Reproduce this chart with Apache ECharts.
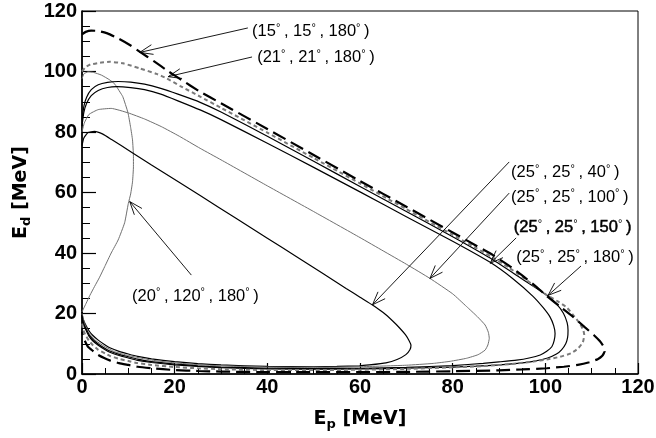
<!DOCTYPE html>
<html><head><meta charset="utf-8">
<script src="https://cdn.jsdelivr.net/npm/echarts@6/dist/echarts.min.js"></script>
<style>html,body{margin:0;padding:0;background:#fff}#c{width:656px;height:438px}</style>
</head><body><div id="c"></div>
<script>
// Axis ranges / ticks
const xMin = 0, xMax = 120, xStep = 20;
const yMin = 0, yMax = 120, yStep = 20;

// Curves [E_p, E_d]
const curve15_15_180 = [[0,112.3],[0.8,113.1],[2,113.5],[3.5,113.4],[5.5,112.6],[8,110.8],[10.5,108.6],[12.5,106.5],[15.5,103.4],[18.6,100.1],[21.2,97.5],[25.5,93.3],[30,89.5],[40,81],[50,72.4],[60,63.8],[70,55.3],[80,46.8],[85,42.5],[88.7,39.3],[92,36],[95,32.6],[98,28.9],[100.3,25.8],[103,22.5],[106,18.9],[108.5,15.5],[110.5,12.8],[111.8,10.8],[112.6,9],[112.8,7.5],[112.3,6],[111.3,4.9],[109.5,3.9],[107,3.0],[104,2.4],[100.3,1.9],[95,1.5],[90,1.2],[80,0.9],[70,0.7],[60,0.6],[50,0.6],[40,0.6],[30,0.8],[25,1],[20,1.3],[15,1.9],[12,2.4],[10,3],[8,3.6],[6,4.5],[4.9,5.2],[3.5,6.3],[2.3,7.7],[1.3,9],[0.6,11],[0.2,12.5],[0,14]];
const curve21_21_180 = [[0,100],[0.65,101.3],[1.8,102.3],[3.9,102.9],[6,103.2],[8.9,102.7],[12.5,101],[16.1,99.2],[18.3,97.7],[21.2,95.2],[25.5,91.7],[30,88],[40,79.8],[50,71.4],[60,63],[70,54.5],[80,46],[85,41.7],[88.5,38.6],[92,35.3],[95,32.1],[98,28.7],[100.3,26.1],[102.7,24],[104.6,22],[106.3,19],[107.5,16.5],[108.2,14.5],[108.4,12.9],[108.1,10.5],[107.1,8.5],[105.5,6.8],[103.2,5.7],[100.3,4.8],[97.4,4.1],[94,3.5],[90.2,3],[85,2.5],[80,2.2],[70,1.7],[60,1.4],[50,1.3],[40,1.3],[30,1.6],[25,1.9],[20,2.3],[15,3],[12,3.6],[10,4.3],[8,5],[6,6],[5,6.8],[3.5,8],[2.3,9.6],[1.5,11],[0.7,13],[0.2,15],[0,17]];
const curve25_25_180 = [[0,84],[0.4,88.5],[1,91.5],[2,94],[3.5,95.6],[5.5,96.4],[7.8,96.7],[10.5,96.5],[13.5,95.8],[17,94.4],[20.7,92.5],[25.5,89.8],[30,86.6],[40,78.6],[50,70.3],[60,62],[70,53.7],[80,45.4],[88,38.4],[95,31.4],[100.6,25.8],[102.5,23],[103.9,20.1],[104.7,17],[104.9,14.5],[104.8,12],[104.4,10],[103.5,8],[102.4,6.6],[100.5,5.3],[97.4,4.2],[94,3.5],[90.2,3],[85,2.6],[80,2.3],[70,1.9],[60,1.7],[50,1.6],[40,1.7],[30,2.1],[25,2.5],[20,3],[15,3.8],[12,4.5],[10,5.3],[8,6.1],[6,7.2],[5,8],[3.5,9.5],[2.3,11],[1.5,12.5],[0.7,15],[0.2,17],[0,19]];
const curve25_25_150 = [[0,82],[0.4,86.5],[1,89.5],[2,92],[3.5,93.7],[5.5,94.7],[7.5,95],[10.5,94.7],[13.5,94],[17,92.5],[20.7,90.3],[25.5,87.3],[30,84.1],[40,76.3],[50,68.3],[60,60.2],[70,52],[80,43.9],[88,37],[93,31.5],[97.4,25.6],[99.5,22],[101,18.9],[101.8,16],[102.1,13.4],[101.9,11],[101.4,9],[100.3,7.5],[98.9,6.3],[96.5,5.3],[93.8,4.6],[90,4],[86.6,3.5],[80,2.8],[70,2.2],[60,1.9],[50,1.8],[40,1.9],[30,2.3],[25,2.7],[20,3.3],[15,4.1],[12,4.9],[10,5.7],[8,6.5],[6,7.6],[5,8.4],[3.5,9.9],[2.3,11.5],[1.5,13],[0.7,15.5],[0.2,17.5],[0,19.5]];
const curve25_25_100 = [[0,80],[0.5,83],[1.5,85.8],[3.5,87.4],[6.3,87.8],[10,86.3],[13.5,84.3],[17.1,81.8],[21,78.6],[25.5,74.6],[30,70.8],[40,62.2],[50,53.7],[60,45.1],[65,40.7],[70,36.3],[75.1,31.6],[80,26.5],[83,22.3],[85.3,19],[87,16.2],[87.7,13.8],[87.9,11.8],[87.6,9.6],[87,7.9],[85.5,6.4],[83,5.2],[79.5,4.2],[75.8,3.5],[70,2.9],[60,2.4],[50,2.2],[40,2.3],[30,2.7],[25,3.1],[20,3.7],[15,4.6],[10,6.1],[7,7.4],[5,9],[3,11],[1.5,13.5],[0.5,17],[0,20]];
const curve25_25_40 = [[0,75.5],[0.4,78],[1.3,79.8],[2.7,80.2],[4.5,79.3],[6.3,77.6],[10.6,73.4],[15,69.1],[20.7,63.6],[25.5,59],[33.4,51.3],[40,44.9],[46.4,38.7],[52,33.2],[57,28.3],[60,25.4],[62.7,22.8],[65,20.3],[67,17.6],[68.5,15.3],[69.8,13],[70.6,11],[71,9.5],[70.8,8.1],[69.9,6.4],[68,4.8],[65.6,3.7],[62,3],[59.9,2.7],[55,2.5],[50,2.4],[40,2.5],[30,3],[25,3.4],[20,4.1],[15,5],[12,5.8],[10,6.6],[8,7.5],[6,8.7],[5,9.6],[3.5,11.2],[2.3,12.8],[1.5,14.3],[0.7,16.5],[0.2,18.5],[0,20.5]];
const curve20_120_180 = [[0,97.5],[0.4,99.2],[1.3,99.9],[2.5,99.7],[4.2,98.8],[6,97.2],[7.1,95.8],[8.2,93.2],[8.8,91.7],[9.9,86.5],[10.5,81.5],[10.9,77.4],[11.1,72],[11.1,68.5],[10.9,63.5],[10.5,59.5],[10,56.4],[9.2,50],[7.8,44.3],[6.3,40],[4.9,35.5],[3.8,32],[2.7,28.9],[1.7,26],[0.9,23.4],[0.3,21.5],[0,20.5]];

// Annotations: arrow start, arrow tip, label anchor (left-middle), label parts
const annStart = [[35.8,114.4],[36.7,104.8],[92.2,70.1],[92.2,59.8],[93.7,45.0],[107.7,35.7],[23.6,32.7]];
const annTip   = [[12.45,106.3],[18.6,98.3],[62.7,22.9],[75.1,31.6],[88.1,36.6],[100.6,26.0],[10.3,57.0]];
const annPos   = [[36.7,113.1],[37.8,104.5],[92.6,66.6],[92.6,58.4],[93.2,48.3],[93.7,38.4],[10.8,25.7]];
const annAngles = [['15','15','180'],['21','21','180'],['25','25','40'],['25','25','100'],['25','25','150'],['25','25','180'],['20','120','180']];

const chart = echarts.init(document.getElementById('c'), null, {renderer:'canvas'});
const FF = '"Liberation Sans", Arial, sans-serif';
const TF = '"DejaVu Sans", sans-serif';

function axisCommon(majorLen, minorLen) {
  return {
    type:'value',
    axisLine:{show:true, onZero:false, lineStyle:{color:'#000', width:1.6}},
    axisTick:{show:true, inside:true, length:majorLen, lineStyle:{color:'#000', width:1.2}},
    minorTick:{show:true, splitNumber:4, length:minorLen, lineStyle:{color:'#000', width:1}},
    splitLine:{show:false}, minorSplitLine:{show:false},
    axisLabel:{color:'#000', fontSize:20, fontWeight:'bold', fontFamily:FF}
  };
}
const richT = {
  e:{fontSize:19, fontWeight:'bold', fontFamily:TF, color:'#000'},
  s:{fontSize:13, fontWeight:'bold', fontFamily:TF, color:'#000', padding:[10,0,0,0]}
};

const xAxis = Object.assign(axisCommon(11,6), {
  min:xMin, max:xMax, interval:xStep,
  name:'{e|E}{s|p}{e| [MeV]}', nameLocation:'middle', nameGap:34,
  nameTextStyle:{rich:richT}
});
xAxis.axisLabel.margin = 3;
const yAxis = Object.assign(axisCommon(14,8), {
  min:yMin, max:yMax, interval:yStep,
  name:'{e|E}{s|d}{e| [MeV]}', nameLocation:'middle', nameGap:41,
  nameTextStyle:{rich:richT}
});
yAxis.axisLabel.margin = 5;

function lineSeries(data, color, width, type) {
  return {type:'line', data:data, showSymbol:false, symbol:'none', smooth:0.15,
    lineStyle:{color:color, width:width, type:type||'solid'}, z:3, silent:true};
}

function renderAnn(params, api) {
  const s = api.coord([api.value(0), api.value(1)]);
  const t = api.coord([api.value(2), api.value(3)]);
  const p = api.coord([api.value(4), api.value(5)]);
  const i = params.dataIndex;
  const ang = Math.atan2(s[1]-t[1], s[0]-t[0]);
  const L = 14, a = 0.36;
  const w1 = [t[0]+L*Math.cos(ang+a), t[1]+L*Math.sin(ang+a)];
  const w2 = [t[0]+L*Math.cos(ang-a), t[1]+L*Math.sin(ang-a)];
  const g = annAngles[i];
  const bold = (i === 4);
  const nStyle = {fontSize:16.5, fontFamily:FF, fill:'#000'};
  if (bold) { nStyle.stroke = '#000'; nStyle.lineWidth = 0.5; }
  const dStyle = {fontSize:11, fontFamily:FF, fill:'#000', width:8, padding:[0,0,8,0]};
  const txt = '{n|(' + g[0] + '}{d|°}{n|, ' + g[1] + '}{d|°}{n|, ' + g[2] + '}{d|°}{n|)}';
  return {type:'group', children:[
    {type:'line', shape:{x1:s[0],y1:s[1],x2:t[0],y2:t[1]}, style:{stroke:'#000', lineWidth:0.9}},
    {type:'polyline', shape:{points:[w1,t,w2]}, style:{stroke:'#000', fill:null, lineWidth:0.9}},
    {type:'text', x:p[0], y:p[1], style:{text:txt, rich:{n:nStyle, d:dStyle}, verticalAlign:'middle', align:'left'}}
  ]};
}
const annData = annStart.map((s,i)=>[s[0],s[1],annTip[i][0],annTip[i][1],annPos[i][0],annPos[i][1]]);

chart.setOption({
  animation:false,
  backgroundColor:'#fff',
  grid:{left:82, right:18, top:11, bottom:64, show:true, borderColor:'#000', borderWidth:1, outerBoundsMode:'none'},
  xAxis:xAxis, yAxis:yAxis,
  series:[
    lineSeries(curve20_120_180, '#707070', 1),
    lineSeries(curve25_25_40, '#000', 1.2),
    lineSeries(curve25_25_100, '#707070', 1),
    lineSeries(curve25_25_150, '#000', 1.2),
    lineSeries(curve25_25_180, '#000', 1.2),
    lineSeries(curve21_21_180, '#7a7a7a', 2, [4,3]),
    lineSeries(curve15_15_180, '#000', 2.2, [14,6]),
    {type:'custom', renderItem:renderAnn, data:annData, encode:{x:[0,2,4], y:[1,3,5]}, z:4, silent:true}
  ]
});
</script></body></html>
